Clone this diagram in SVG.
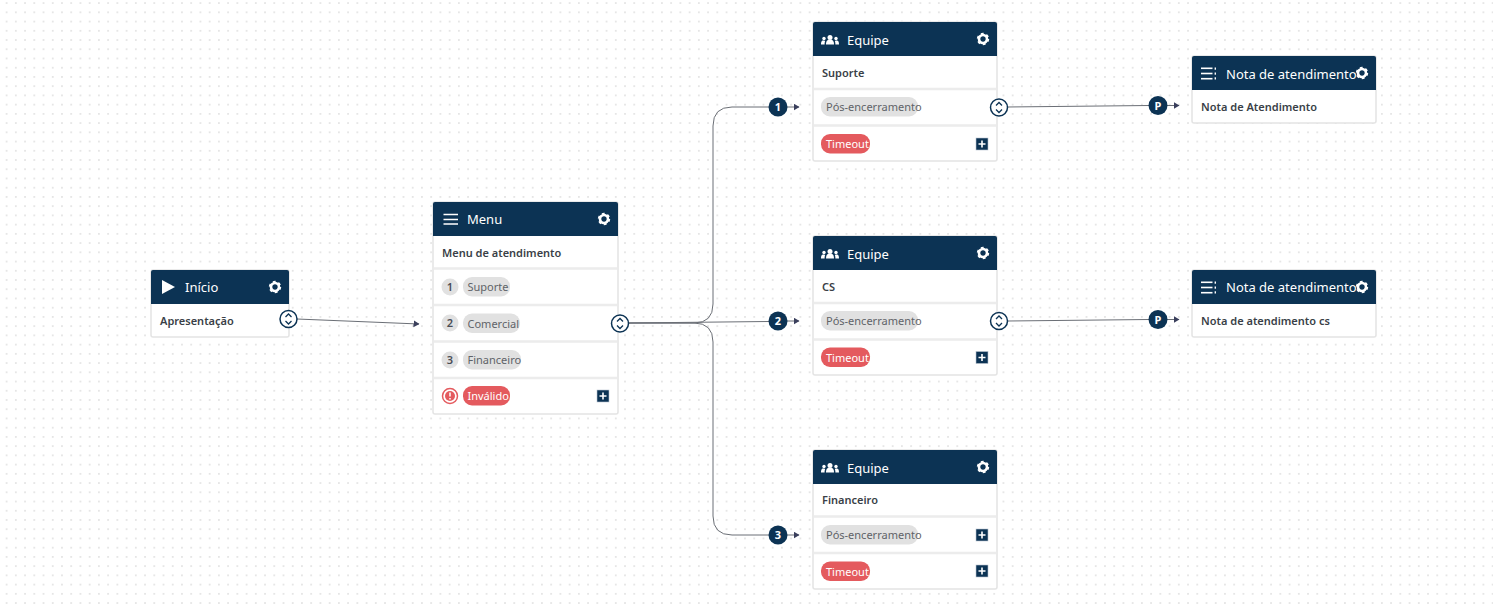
<svg xmlns="http://www.w3.org/2000/svg" xmlns:xlink="http://www.w3.org/1999/xlink" width="1493" height="609" viewBox="0 0 1493 609">
<style>
text{font-family:"Noto Sans","Open Sans","Liberation Sans",sans-serif}
.card{fill:#fff;stroke:#e4e4e4;stroke-width:1.5}
.head{fill:#0c3354}
.sep{stroke:#ececec;stroke-width:2.5}
.title{fill:#fff;font-size:13px}
.bold{fill:#3a3f47;font-size:11px;font-weight:600}
.pill{fill:#e1e1e1}
.red{fill:#e45a5e}
.ptext{fill:#5f6368;font-size:11px}
.rtext{fill:#fff;font-size:11px}
.num{fill:#4a4d55;font-size:11px;font-weight:600;text-anchor:middle}
.badge{fill:#fff;font-size:11px;font-weight:700;text-anchor:middle}
.conn{fill:none;stroke:#6b6f76;stroke-width:1}
</style>
<defs>
<pattern id="dots" width="9.23" height="9.23" patternUnits="userSpaceOnUse" x="2" y="-1.5">
<rect x="4" y="4" width="1.2" height="1.2" fill="#c4c4c4"/>
</pattern>
<marker id="arr" markerWidth="6" markerHeight="8" refX="5.5" refY="3.5" orient="auto" markerUnits="userSpaceOnUse">
<path d="M0 0L6 3.5L0 7Z" fill="#3a3f5c"/>
</marker>
<g id="gear">
<circle r="4" fill="none" stroke="#fff" stroke-width="2.6"/>
<circle r="5.2" fill="none" stroke="#fff" stroke-width="2" stroke-dasharray="2.7 2.75"/>
</g>
<g id="plus">
<rect x="-6" y="-6" width="12" height="12" fill="#0c3354" stroke="#b9c4cf" stroke-width=".6"/>
<path d="M-3.5 0H3.5M0-3.5V3.5" stroke="#fff" stroke-width="1.6"/>
</g>
<g id="updown">
<circle r="8.5" fill="#fff" stroke="#0c3354" stroke-width="1.5"/>
<path d="M-3-2L0-5L3-2M-3 2L0 5L3 2" fill="none" stroke="#0c3354" stroke-width="1.3"/>
</g>
<g id="people" fill="#fff">
<circle cx="0" cy="-2.6" r="2.5"/><path d="M-4 4.5C-4 0-2 -.3 0-.3S4 0 4 4.5Z"/>
<circle cx="-6" cy="-1.5" r="1.7"/><path d="M-9 4.5C-9 1.2-8 .6-6.3 .6-5.6 .6-5 .9-4.9 1.2-5.3 2-5.4 3-5.4 4.5Z"/>
<circle cx="6" cy="-1.5" r="1.7"/><path d="M9 4.5C9 1.2 8 .6 6.3 .6 5.6 .6 5 .9 4.9 1.2 5.3 2 5.4 3 5.4 4.5Z"/>
</g>
<g id="notes" fill="#fff">
<rect x="-8" y="-6" width="11.5" height="1.6"/><rect x="-8" y="-.8" width="11.5" height="1.6"/><rect x="-8" y="4.4" width="11.5" height="1.6"/>
<rect x="5.6" y="-6" width="1.4" height="2.2"/><rect x="5.6" y="-1" width="1.4" height="2.2"/><rect x="5.6" y="3.8" width="1.4" height="2.2"/>
</g>
</defs>
<rect width="1493" height="609" fill="#fff"/>
<rect width="1493" height="609" fill="url(#dots)"/>

<g id="connectors">
<path class="conn" marker-end="url(#arr)" d="M297 319L419 324"/>
<path class="conn" d="M628 323H694Q713 323 713 304V126Q713 107 732 107H769"/>
<path class="conn" d="M628 323H694Q713 323 713 342V516Q713 535 732 535H769"/>
<path class="conn" d="M628 323L769 321.5"/>
<path class="conn" marker-end="url(#arr)" d="M787 107H799"/>
<path class="conn" marker-end="url(#arr)" d="M787 321H799"/>
<path class="conn" marker-end="url(#arr)" d="M787 535H799"/>
<path class="conn" d="M1007 107L1149 105.5"/>
<path class="conn" d="M1008 321L1149 319.5"/>
<path class="conn" marker-end="url(#arr)" d="M1167 105.5H1179"/>
<path class="conn" marker-end="url(#arr)" d="M1167 319.5H1179"/>
<circle cx="778" cy="107" r="9.5" class="head"/><text x="778" y="111" class="badge">1</text>
<circle cx="778" cy="321" r="9.5" class="head"/><text x="778" y="325" class="badge">2</text>
<circle cx="778" cy="535" r="9.5" class="head"/><text x="778" y="539" class="badge">3</text>
<circle cx="1158" cy="105.5" r="9.5" class="head"/><text x="1158" y="109.5" class="badge">P</text>
<circle cx="1158" cy="319.5" r="9.5" class="head"/><text x="1158" y="323.5" class="badge">P</text>
</g>

<g id="node-inicio">
<rect class="card" x="151" y="270" width="138" height="67" rx="2"/>
<path class="head" d="M151 304V272Q151 270 153 270H287Q289 270 289 272V304Z"/>
<path d="M162 280L175 287L162 294Z" fill="#fff"/>
<text class="title" x="185" y="292">Início</text>
<use href="#gear" x="275" y="287"/>
<text class="bold" x="160" y="325">Apresentação</text>
<use href="#updown" x="288.500" y="319"/>
</g>

<g id="node-menu">
<rect class="card" x="433" y="202" width="185" height="212" rx="2"/>
<path class="head" d="M433 236V204Q433 202 435 202H616Q618 202 618 204V236Z"/>
<path d="M443.500 214.500H458M443.500 219.500H458M443.500 224H458" stroke="#fff" stroke-width="1.500"/>
<text class="title" x="467" y="224">Menu</text>
<use href="#gear" x="604" y="219"/>
<text class="bold" x="442" y="257">Menu de atendimento</text>
<path class="sep" d="M434 268.500H617M434 305H617M434 341.500H617M434 378H617"/>
<circle class="pill" cx="450" cy="287" r="8.500"/><text class="num" x="450" y="291">1</text>
<rect class="pill" x="463" y="277" width="47" height="19.500" rx="9"/><text class="ptext" x="467.500" y="291">Suporte</text>
<circle class="pill" cx="450" cy="323" r="8.500"/><text class="num" x="450" y="327">2</text>
<rect class="pill" x="463" y="313.500" width="57" height="19.500" rx="9"/><text class="ptext" x="467.500" y="327.500">Comercial</text>
<circle class="pill" cx="450" cy="360" r="8.500"/><text class="num" x="450" y="364">3</text>
<rect class="pill" x="463" y="350" width="58" height="19.500" rx="9"/><text class="ptext" x="467.500" y="364">Financeiro</text>
<circle cx="450" cy="396" r="7.500" fill="#fff" stroke="#e45a5e" stroke-width="1.500"/>
<circle cx="450" cy="396" r="5" class="red"/>
<path d="M450 392.500V396.500M450 398V399.500" stroke="#fff" stroke-width="1.500"/>
<rect class="red" x="463" y="386" width="47" height="19.500" rx="9"/><text class="rtext" x="467.500" y="400">Inválido</text>
<use href="#plus" x="603" y="396"/>
<use href="#updown" x="620" y="323.500"/>
</g>

<g id="node-equipe-suporte">
<rect class="card" x="813" y="22" width="184" height="139" rx="2"/>
<path class="head" d="M813 56V24Q813 22 815 22H995Q997 22 997 24V56Z"/>
<use href="#people" x="830" y="40"/>
<text class="title" x="847" y="45">Equipe</text>
<use href="#gear" x="983" y="39"/>
<text class="bold" x="822" y="77">Suporte</text>
<path class="sep" d="M814 89H996M814 125.500H996"/>
<rect class="pill" x="821" y="97" width="97" height="19.500" rx="9"/><text class="ptext" x="826" y="111">Pós-encerramento</text>
<rect class="red" x="821" y="134" width="49" height="19.500" rx="9"/><text class="rtext" x="826" y="148">Timeout</text>
<use href="#plus" x="982" y="144"/>
<use href="#updown" x="999" y="107.500"/>
</g>

<g id="node-equipe-cs">
<rect class="card" x="813" y="236" width="184" height="139" rx="2"/>
<path class="head" d="M813 270V238Q813 236 815 236H995Q997 236 997 238V270Z"/>
<use href="#people" x="830" y="254"/>
<text class="title" x="847" y="259">Equipe</text>
<use href="#gear" x="983" y="253"/>
<text class="bold" x="822" y="291">CS</text>
<path class="sep" d="M814 303H996M814 339.500H996"/>
<rect class="pill" x="821" y="311" width="97" height="19.500" rx="9"/><text class="ptext" x="826" y="325">Pós-encerramento</text>
<rect class="red" x="821" y="347.500" width="49" height="19.500" rx="9"/><text class="rtext" x="826" y="361.500">Timeout</text>
<use href="#plus" x="982" y="357.500"/>
<use href="#updown" x="999" y="321"/>
</g>

<g id="node-equipe-financeiro">
<rect class="card" x="813" y="450" width="184" height="139" rx="2"/>
<path class="head" d="M813 484V452Q813 450 815 450H995Q997 450 997 452V484Z"/>
<use href="#people" x="830" y="468"/>
<text class="title" x="847" y="473">Equipe</text>
<use href="#gear" x="983" y="467"/>
<text class="bold" x="822" y="504">Financeiro</text>
<path class="sep" d="M814 516.500H996M814 553H996"/>
<rect class="pill" x="821" y="525" width="97" height="19.500" rx="9"/><text class="ptext" x="826" y="539">Pós-encerramento</text>
<rect class="red" x="821" y="561.500" width="49" height="19.500" rx="9"/><text class="rtext" x="826" y="575.500">Timeout</text>
<use href="#plus" x="982" y="535"/>
<use href="#plus" x="982" y="571"/>
</g>

<g id="node-nota-1">
<rect class="card" x="1192" y="56" width="184" height="67" rx="2"/>
<path class="head" d="M1192 90V58Q1192 56 1194 56H1374Q1376 56 1376 58V90Z"/>
<use href="#notes" x="1209" y="73.500"/>
<text class="title" x="1226" y="79">Nota de atendimento</text>
<use href="#gear" x="1362" y="73"/>
<text class="bold" x="1201" y="111">Nota de Atendimento</text>
</g>

<g id="node-nota-2">
<rect class="card" x="1192" y="270" width="184" height="67" rx="2"/>
<path class="head" d="M1192 304V272Q1192 270 1194 270H1374Q1376 270 1376 272V304Z"/>
<use href="#notes" x="1209" y="287.500"/>
<text class="title" x="1226" y="292">Nota de atendimento</text>
<use href="#gear" x="1362" y="287"/>
<text class="bold" x="1201" y="325">Nota de atendimento cs</text>
</g>
</svg>
